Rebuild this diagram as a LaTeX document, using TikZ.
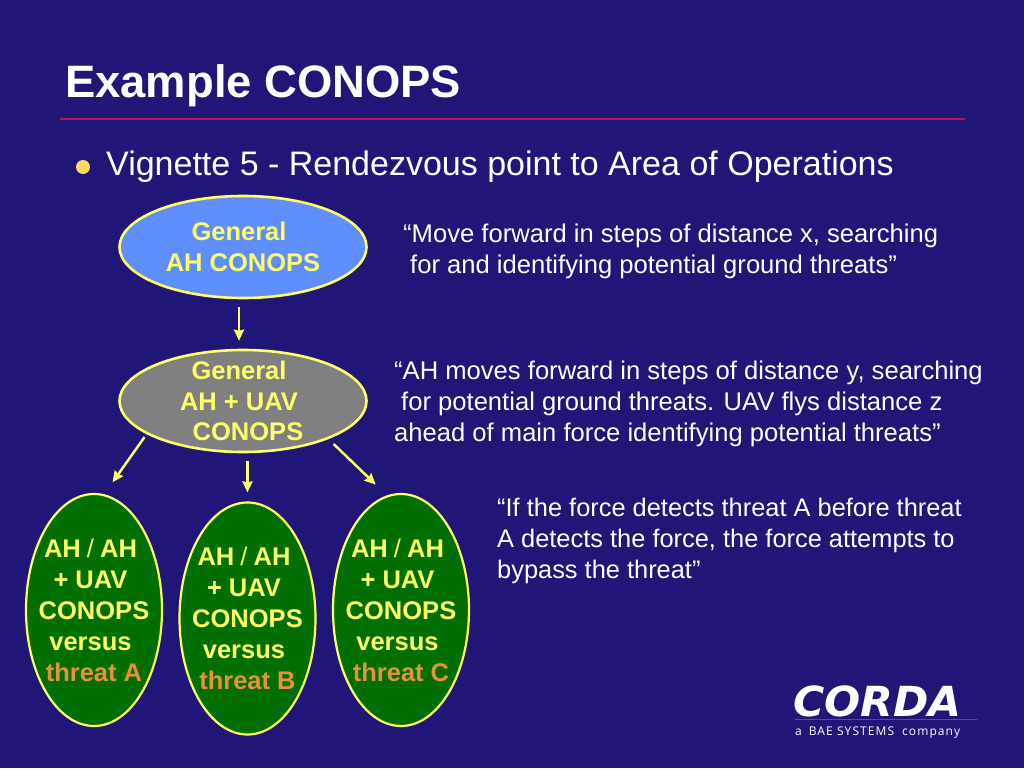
\documentclass[tikz,border=0pt]{standalone}
\usepackage{fontspec}
\setmainfont{Liberation Sans}
\newfontfamily\logofont[LetterSpace=9]{Open Sans}
\newfontfamily\logobig{DejaVu Sans}
\usetikzlibrary{shapes.geometric,arrows.meta,calc}
\definecolor{bgblue}{HTML}{1F1678}
\definecolor{ylw}{HTML}{FFFF66}
\definecolor{skyfill}{HTML}{5F8FFF}
\definecolor{greyfill}{HTML}{808080}
\definecolor{greenfill}{HTML}{006F00}
\definecolor{thr}{HTML}{E8903A}
\definecolor{rule}{HTML}{C0105A}
\definecolor{logoline}{HTML}{C8204A}
\definecolor{bul}{HTML}{FFD966}
\tikzset{
  x=1pt,y=-1pt,
  oval/.style={ellipse,draw=ylw,line width=2.6pt,inner xsep=-40pt,inner ysep=-30pt,align=center,text=ylw,font=\fontsize{25.5}{30.5}\selectfont\bfseries},
  wide oval/.style={oval,minimum width=247pt,minimum height=102pt},
  tall oval/.style={oval,fill=greenfill,line width=2.2pt,minimum width=136pt,minimum height=232pt,font=\fontsize{25.5}{31}\selectfont\bfseries},
  quote/.style={anchor=north west,inner sep=0pt,align=left,text=white,font=\fontsize{25.6}{30.7}\selectfont},
  arr/.style={draw=ylw,line width=2.5pt,-{Stealth[length=11pt,width=10pt,inset=1pt]}},
}
\newcommand{\thrt}[1]{\textcolor{thr}{#1}}
\newcommand{\sep}{\hspace{-1pt}\textmd{/}\hspace{-1pt}}
\newcommand{\lft}[1]{\hspace*{-7pt}#1}
\begin{document}
\begin{tikzpicture}
\useasboundingbox (0,0) rectangle (1024,768);
\fill[bgblue] (0,0) rectangle (1024,768);
\node[anchor=base west,inner sep=0pt,text=white,font=\fontsize{45.4}{50}\selectfont\bfseries] (title) at (65,97) {Example CONOPS};
\coordinate (ruleL) at (60,119);
\coordinate (ruleR) at (965,119);
\draw[rule,line width=2pt] (ruleL) -- (ruleR);
\node[circle,fill=bul,minimum size=14pt,inner sep=0pt] (bullet) at (83,167) {};
\node[anchor=base west,inner sep=0pt,text=white,font=\fontsize{34}{38}\selectfont] (vig) at (106,175) {Vignette 5 - Rendezvous point to Area of Operations};

\node[wide oval,fill=skyfill] (a) at (243,247) {\hspace*{-8pt}General\\AH CONOPS};
\node[wide oval,fill=greyfill] (b) at (243,401) {\hspace*{-8pt}General\\\hspace*{-8pt}AH + UAV\\\hspace*{10pt}CONOPS};
\node[tall oval] (c1) at (94,610) {\lft{AH \sep{} AH}\\\lft{+ UAV}\\CONOPS\\\lft{versus}\\\thrt{threat A}};
\node[tall oval] (c2) at (247.5,618.5) {\lft{AH \sep{} AH}\\\lft{+ UAV}\\CONOPS\\\lft{versus}\\\thrt{threat B}};
\node[tall oval] (c3) at (401,610) {\lft{AH \sep{} AH}\\\lft{+ UAV}\\CONOPS\\\lft{versus}\\\thrt{threat C}};

\draw[arr,shorten <=8pt,shorten >=8pt] ($(a.south)+(-4,0)$) -- ($(b.north)+(-4,0)$);
\draw[arr,shorten <=3.6pt,shorten >=14.6pt] (b.199) -- (c1.85);
\draw[arr,shorten <=8pt,shorten >=9pt] (b.south -| c2.north) -- (c2.north);
\draw[arr,shorten <=7pt,shorten >=15.6pt] (b.336) -- (c3.97.6);

\node[quote] (q1) at (403,224) {“Move forward in steps of distance x, searching\\\hspace*{7pt}for and identifying potential ground threats”};
\node[quote] (q2) at (394,361) {“AH moves forward in steps of distance y, searching\\\hspace*{7pt}for potential ground threats. UAV flys distance z\\ahead of main force identifying potential threats”};
\node[quote,font=\fontsize{25.4}{30.7}\selectfont] (q3) at (497,498) {“If the force detects threat A before threat\\A detects the force, the force attempts to\\bypass the threat”};

\node[anchor=base west,inner sep=0pt,text=white,font=\fontsize{37}{40}\logobig\bfseries\itshape] (logo) at (793,716) {\scalebox{1.15}[1.12]{CORDA}};
\coordinate (logoL) at (795,719);
\coordinate (logoR) at (977,719);
\draw[logoline,line width=1pt] (logoL) -- (logoR);
\node[anchor=base west,inner sep=0pt,text=white,font=\fontsize{12}{14}\logofont] (bae) at (795,735) {a\hspace{7pt}BAE SYSTEMS\hspace{8pt}company};
\end{tikzpicture}
\end{document}
